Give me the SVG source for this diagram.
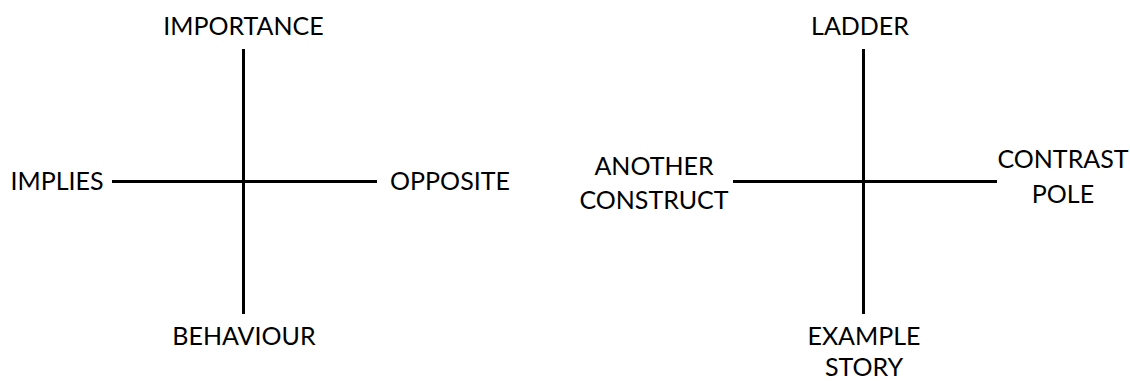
<svg xmlns="http://www.w3.org/2000/svg" width="1130" height="381" viewBox="0 0 1130 381">
<style>
.t{font-family:Lato,"Open Sans","Liberation Sans",sans-serif;font-size:25px;fill:#000;text-anchor:middle}
.ax{stroke:#000;stroke-width:3;fill:none}
</style>
<rect width="1130" height="381" fill="#fff"/>
<g id="connectors">
<line class="ax" x1="243.5" y1="49" x2="243.5" y2="314"/>
<line class="ax" x1="112" y1="181.5" x2="377" y2="181.5"/>
<line class="ax" x1="863.5" y1="49" x2="863.5" y2="314"/>
<line class="ax" x1="733" y1="181.5" x2="997" y2="181.5"/>
</g>
<g id="importance"><text class="t" x="243.5" y="35">IMPORTANCE</text></g>
<g id="implies"><text class="t" x="57" y="189.5">IMPLIES</text></g>
<g id="opposite"><text class="t" x="450" y="189.5">OPPOSITE</text></g>
<g id="behaviour"><text class="t" x="244" y="345">BEHAVIOUR</text></g>
<g id="ladder"><text class="t" x="860" y="35">LADDER</text></g>
<g id="another-construct"><text class="t" x="654" y="175">ANOTHER</text><text class="t" x="654" y="209">CONSTRUCT</text></g>
<g id="contrast-pole"><text class="t" x="1063" y="168">CONTRAST</text><text class="t" x="1063" y="203">POLE</text></g>
<g id="example-story"><text class="t" x="864" y="345">EXAMPLE</text><text class="t" x="864" y="376">STORY</text></g>
</svg>
